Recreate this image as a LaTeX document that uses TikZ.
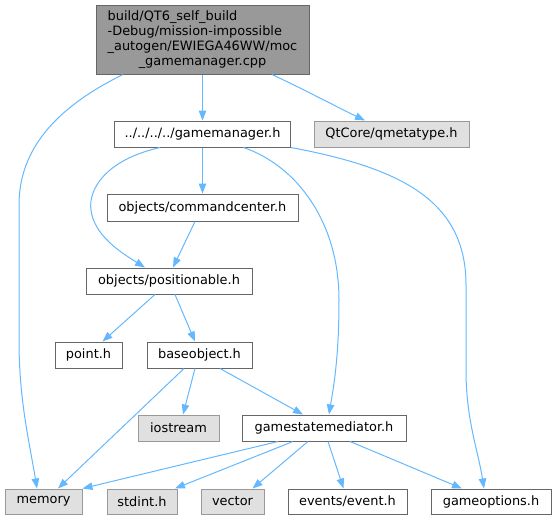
\documentclass[tikz,border=0pt]{standalone}
\usepackage{fontspec}
\setmainfont{DejaVu Sans}
\usetikzlibrary{arrows.meta}
\definecolor{edgecol}{HTML}{63B8FF}
\definecolor{bordark}{HTML}{666666}
\definecolor{borlight}{HTML}{999999}
\definecolor{sysfill}{HTML}{E0E0E0}
\definecolor{topfill}{HTML}{999999}
\tikzset{
  base/.style={line width=1pt, inner sep=0pt, minimum height=26pt, font=\fontsize{12.9}{15}\selectfont, text=black},
  filebox/.style={base, draw=bordark, fill=white},
  sysbox/.style={base, draw=borlight, fill=sysfill},
  topbox/.style={base, draw=bordark, fill=topfill},
  edge/.style={draw=edgecol, line width=1pt, -{Triangle[length=10pt,width=7.5pt]}, fill=none},
}
\begin{document}
\begin{tikzpicture}[x=1pt,y=-1pt]
\useasboundingbox (0,0) rectangle (555,520);
% nodes
\node[topbox, minimum width=213pt, minimum height=69pt] (top) at (202.5,39.5)
  {\begin{tabular}{@{}l@{}}build/QT6\_self\_build\\-Debug/mission-impossible\\\_autogen/EWIEGA46WW/moc\\\multicolumn{1}{@{}c@{}}{\_gamemanager.cpp}\end{tabular}};
\node[filebox, minimum width=176pt] (gm) at (202.5,134) {../../../../gamemanager.h};
\node[sysbox, minimum width=155pt] (qt) at (391.5,134) {QtCore/qmetatype.h};
\node[filebox, minimum width=191pt, minimum height=27pt] (cc) at (202.5,207.5) {objects/commandcenter.h};
\node[filebox, minimum width=166pt] (pos) at (169,281) {objects/positionable.h};
\node[filebox, minimum width=67pt] (pt) at (88.5,355) {point.h};
\node[filebox, minimum width=105pt] (bo) at (199.5,355) {baseobject.h};
\node[sysbox, minimum width=81pt] (ios) at (178.5,428) {iostream};
\node[filebox, minimum width=164pt] (gsm) at (324,428) {gamestatemediator.h};
\node[sysbox, minimum width=77pt, minimum height=25pt] (mem) at (43.5,501.5) {memory};
\node[sysbox, minimum width=70pt, minimum height=25pt] (std) at (142,501.5) {stdint.h};
\node[sysbox, minimum width=63pt, minimum height=25pt] (vec) at (232.5,501.5) {vector};
\node[filebox, minimum width=119pt, minimum height=25pt] (ev) at (347.5,501.5) {events/event.h};
\node[filebox, minimum width=120pt, minimum height=25pt] (go) at (491,501.5) {gameoptions.h};
% edges
\draw[edge] ([xshift=-79.5pt]top.south) .. controls (55,108) and (19,150) .. (19,205) -- (19,340) .. controls (19,400) and (29,440) .. ([xshift=-6.5pt]mem.north);
\draw[edge] (top.south) -- (gm.north);
\draw[edge] ([xshift=69.5pt]top.south) .. controls (305,90) and (335,106) .. ([xshift=-26.5pt]qt.north);
\draw[edge] ([xshift=-42.5pt]gm.south) .. controls (105,160) and (88,190) .. (91,210) .. controls (94,235) and (120,252) .. ([xshift=-24pt]pos.north);
\draw[edge] (gm.south) -- (cc.north);
\draw[edge] ([xshift=41pt]gm.south) .. controls (295,165) and (339,220) .. (339,300) .. controls (339,360) and (333,390) .. ([xshift=5pt]gsm.north);
\draw[edge] (gm.south east) .. controls (400,168) and (466,200) .. (466,285) -- (466,370) .. controls (466,420) and (478,450) .. ([xshift=-7pt]go.north);
\draw[edge] ([xshift=-7.5pt]cc.south) -- ([xshift=4pt]pos.north);
\draw[edge] ([xshift=-14pt]pos.south) -- ([xshift=14pt]pt.north);
\draw[edge] ([xshift=6pt]pos.south) -- ([xshift=-4.5pt]bo.north);
\draw[edge] ([xshift=-15.5pt]bo.south) -- ([xshift=14.5pt]mem.north);
\draw[edge] ([xshift=-4.5pt]bo.south) -- ([xshift=4.5pt]ios.north);
\draw[edge] ([xshift=20.5pt]bo.south) -- ([xshift=-21pt]gsm.north);
\draw[edge] ([xshift=-46pt]gsm.south) -- (mem.north east);
\draw[edge] ([xshift=-31pt]gsm.south) -- ([xshift=33pt]std.north);
\draw[edge] ([xshift=-16pt]gsm.south) -- ([xshift=20pt]vec.north);
\draw[edge] ([xshift=4pt]gsm.south) -- ([xshift=-4pt]ev.north);
\draw[edge] ([xshift=26pt]gsm.south) -- ([xshift=-29pt]go.north);
\end{tikzpicture}
\end{document}
